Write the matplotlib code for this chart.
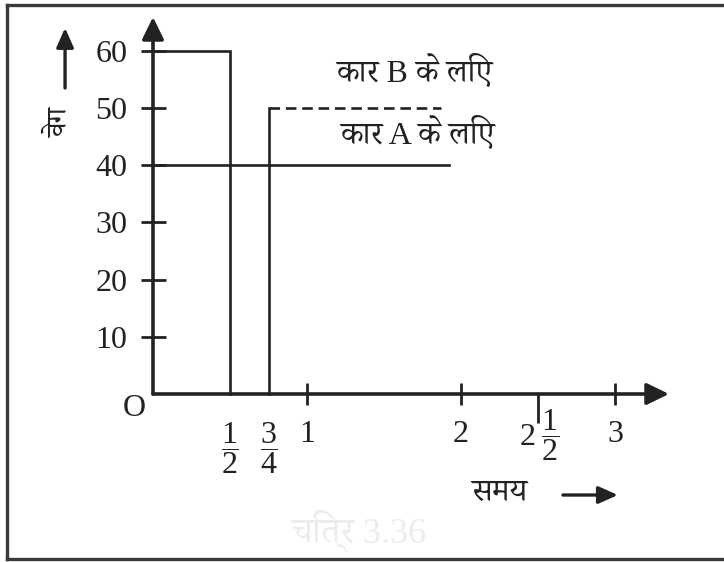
import matplotlib
matplotlib.use("Agg")
import matplotlib.pyplot as plt
from matplotlib import font_manager, ft2font
from matplotlib.lines import Line2D
from matplotlib.transforms import ScaledTranslation

# speed (km/h) against time (h)
carB_t = [0, 0.5, 0.5]
carB_v = [60, 60, 0]
carB_restart_t = [0.75, 0.75]
carB_restart_v = [0, 50]
carB_dash_t = [0.75, 1.87]
carB_dash_v = [50, 50]
carA_t = [0, 1.92]
carA_v = [40, 40]

y_ticks = [10, 20, 30, 40, 50, 60]
x_ticks = [0.5, 0.75, 1, 2, 3]
x_tick_labels = [r"$\dfrac{1}{2}$", r"$\dfrac{3}{4}$", "1", "2", "3"]
x_minor_ticks = [2.5]
x_minor_labels = [r"$2\;\dfrac{1}{2}$"]

label_B = "कार B के लिए"
label_A = "कार A के लिए"
y_title = "वेग"
x_title = "समय"
caption = "चित्र 3.36"


def devanagari_fonts():
    """All installed font names that have Devanagari glyphs."""
    names = []
    for f in font_manager.fontManager.ttflist:
        try:
            if 0x0915 in ft2font.FT2Font(f.fname).get_charmap() and f.name not in names:
                names.append(f.name)
        except Exception:
            continue
    return names


deva_names = devanagari_fonts()
preferred = ["Noto Serif Devanagari", "FreeSerif"]
deva = next((n for n in preferred if n in deva_names), deva_names[0] if deva_names else None)
hindi_family = ["Liberation Serif", deva, "DejaVu Sans"] if deva else ["Liberation Serif", "DejaVu Sans"]

plt.rcParams["font.family"] = ["Liberation Serif", "DejaVu Serif"]
plt.rcParams["mathtext.fontset"] = "custom"
plt.rcParams["mathtext.rm"] = "Liberation Serif"
plt.rcParams["mathtext.it"] = "Liberation Serif:italic"

ink = "#222222"

fig = plt.figure(figsize=(7.24, 5.62), dpi=100)
ax = fig.add_axes([0, 0, 1, 1])
ax.set_facecolor("none")

# pixel mapping: x=0 at 153px, 154px per hour; y=0 at 394px from top, 5.72px per km/h
ax.set_xlim(-153 / 154, (724 - 153) / 154)
ax.set_ylim(-(562 - 394) / 5.72, 394 / 5.72)

for side in ["top", "right", "left", "bottom"]:
    ax.spines[side].set_visible(False)
ax.spines["left"].set_position(("data", 0))
ax.spines["bottom"].set_position(("data", 0))

# axes drawn as arrows
ax.annotate("", xy=(0, 65.9), xytext=(0, 0),
            arrowprops=dict(arrowstyle="-|>,head_length=0.45,head_width=0.22", lw=2.6,
                            color=ink, mutation_scale=30, shrinkA=0, shrinkB=0))
ax.annotate("", xy=(3.35, 0), xytext=(0, 0),
            arrowprops=dict(arrowstyle="-|>,head_length=0.45,head_width=0.22", lw=2.6,
                            color=ink, mutation_scale=30, shrinkA=0, shrinkB=0))

# data lines
ax.plot(carB_t, carB_v, color=ink, lw=1.9, solid_joinstyle="miter")
ax.plot(carB_restart_t, carB_restart_v, color=ink, lw=1.9)
ax.plot(carB_dash_t, carB_dash_v, color=ink, lw=1.9, dashes=(4, 2.2))
ax.plot(carA_t, carA_v, color=ink, lw=1.9)

# ticks
ax.set_yticks(y_ticks)
ax.set_yticklabels([str(v) for v in y_ticks])
ax.set_xticks(x_ticks, labels=x_tick_labels)
ax.set_xticks(x_minor_ticks, labels=x_minor_labels, minor=True)
ax.tick_params(axis="y", direction="inout", length=18, width=2, pad=9.4,
               labelsize=23, color=ink, labelcolor=ink)
ax.tick_params(axis="x", which="major", direction="inout", length=16.5, width=2,
               pad=10.8, labelsize=23, color=ink, labelcolor=ink)
ax.tick_params(axis="x", which="minor", direction="out", length=21, width=2,
               pad=-11.5, labelsize=23, color=ink, labelcolor=ink)
for t in ax.xaxis.get_major_ticks()[:2]:
    t.tick1line.set_visible(False)
for lbl in ax.xaxis.get_minorticklabels():
    lbl.set_transform(lbl.get_transform() + ScaledTranslation(1.5 / 100, 0, fig.dpi_scale_trans))

# labels
ax.text(-0.123, -2.6, "O", fontsize=23, ha="center", va="center", color=ink)
ax.text(1.695, 56.3, label_B, family=hindi_family, fontsize=23, weight="medium",
        ha="center", va="center", color=ink)
ax.text(1.72, 45.5, label_A, family=hindi_family, fontsize=23, weight="medium",
        ha="center", va="center", color=ink)
ax.text(-0.597, 47.4, y_title, family=hindi_family, fontsize=21, weight="medium", rotation=90,
        ha="center", va="center", color=ink)
ax.text(2.247, -17.3, x_title, family=hindi_family, fontsize=23, weight="medium",
        ha="center", va="center", color=ink)
ax.text(1.338, -24.0, caption, family=hindi_family, fontsize=26, ha="center", va="center",
        color="#ececec")

# small direction arrows beside the axis titles
ax.annotate("", xy=(-0.571, 64.0), xytext=(-0.571, 53.5),
            arrowprops=dict(arrowstyle="-|>,head_length=0.45,head_width=0.2", lw=2.4,
                            color=ink, mutation_scale=26, shrinkA=0, shrinkB=0))
ax.annotate("", xy=(3.019, -17.66), xytext=(2.662, -17.66),
            arrowprops=dict(arrowstyle="-|>,head_length=0.45,head_width=0.2", lw=2.4,
                            color=ink, mutation_scale=26, shrinkA=0, shrinkB=0))

# frame of the printed figure (right side is cut off in the scan)
left, top, bottom = 7 / 724, 1 - 5 / 562, 3 / 562
for xs, ys in [([left, 1], [top, top]), ([left, left], [top, bottom]), ([left, 1], [bottom, bottom])]:
    fig.add_artist(Line2D(xs, ys, transform=fig.transFigure, color="#3a3a3a", lw=2.4))

fig.savefig("out.png", dpi=100)
